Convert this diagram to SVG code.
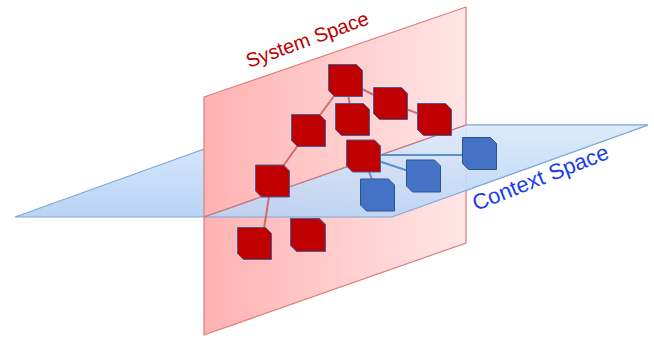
<svg xmlns="http://www.w3.org/2000/svg" width="654" height="341" viewBox="0 0 654 341">
<defs>
<linearGradient id="redG" x1="204" y1="0" x2="466" y2="0" gradientUnits="userSpaceOnUse">
<stop offset="0" stop-color="#FFB2B2"/>
<stop offset="1" stop-color="#FFE6E6"/>
</linearGradient>
<linearGradient id="blueG" x1="0" y1="125" x2="0" y2="217" gradientUnits="userSpaceOnUse">
<stop offset="0" stop-color="#DDEBFB"/>
<stop offset="1" stop-color="#B9D4F6"/>
</linearGradient>
<symbol id="node" viewBox="0 0 35 33" overflow="visible">
<path d="M0.5,0.5 H28.5 L34.5,6.5 V32.5 H6.5 L0.5,26.5 Z"/>
</symbol>
</defs>
<style>
.rp{fill:url(#redG);stroke:#E07C7C;stroke-width:1.2}
.bp{fill:url(#blueG);stroke:#7FA8DA;stroke-width:1.2}
.bf{fill:url(#blueG);fill-opacity:0.9;stroke:#7FA8DA;stroke-width:1.2}
.isect{stroke:#D87474;stroke-width:1.2;fill:none}
.rl{stroke:#CD5C58;stroke-width:2;stroke-opacity:0.85;fill:none}
.bl{stroke:#5F8FCB;stroke-width:2;fill:none}
.rn{fill:#C00000;stroke:#44609C;stroke-width:1}
.bn{fill:#4472C4;stroke:#2F528F;stroke-width:1}
.t{font-family:"Liberation Sans",Arial,sans-serif}
</style>
<g id="planes">
<polygon id="context-plane" class="bp" points="15,217 271,125 648,125 392,217"/>
<polygon id="system-plane" class="rp" points="204,97 466,7 466,243 204,335"/>
<polygon id="context-front" class="bf" points="204,217 466,125 648,125 392,217"/>
<line class="isect" x1="204" y1="217" x2="466" y2="125"/>
</g>
<g id="connectors">
<line class="rl" x1="345.5" y1="80.5" x2="308.5" y2="130.5"/>
<line class="rl" x1="345.5" y1="80.5" x2="352.5" y2="119.5"/>
<line class="rl" x1="345.5" y1="80.5" x2="390.5" y2="103.5"/>
<line class="rl" x1="390.5" y1="103.5" x2="434.5" y2="119.5"/>
<line class="rl" x1="308.5" y1="130.5" x2="272.5" y2="181"/>
<line class="rl" x1="270" y1="190" x2="263" y2="235"/>
<line class="bl" x1="363.5" y1="156" x2="377.5" y2="195"/>
<line class="bl" x1="363.5" y1="156" x2="423.5" y2="176"/>
<line class="bl" x1="363.5" y1="155" x2="479.5" y2="155"/>
</g>
<g id="r1" class="rn"><use href="#node" x="328" y="64" width="35" height="33"/></g>
<g id="r2" class="rn"><use href="#node" x="373" y="87" width="35" height="33"/></g>
<g id="r3" class="rn"><use href="#node" x="417" y="103" width="35" height="33"/></g>
<g id="r4" class="rn"><use href="#node" x="335" y="103" width="35" height="33"/></g>
<g id="r5" class="rn"><use href="#node" x="291" y="114" width="35" height="33"/></g>
<g id="r6" class="rn"><use href="#node" x="346" y="139" width="35" height="34"/></g>
<g id="r7" class="rn"><use href="#node" x="255" y="164" width="35" height="34"/></g>
<g id="r8" class="rn"><use href="#node" x="237" y="227" width="35" height="33"/></g>
<g id="r9" class="rn"><use href="#node" x="290" y="218" width="36" height="34"/></g>
<g id="b1" class="bn"><use href="#node" x="360" y="178" width="35" height="34"/></g>
<g id="b2" class="bn"><use href="#node" x="406" y="159" width="35" height="34"/></g>
<g id="b3" class="bn"><use href="#node" x="462" y="137" width="35" height="33"/></g>
<g id="labels">
<text class="t" x="0" y="0" font-size="20" fill="#C00000" transform="translate(249,68) rotate(-20)">System Space</text>
<text class="t" x="0" y="0" font-size="22" fill="#1A3CF0" transform="translate(476,211) rotate(-21.5)">Context Space</text>
</g>
</svg>
